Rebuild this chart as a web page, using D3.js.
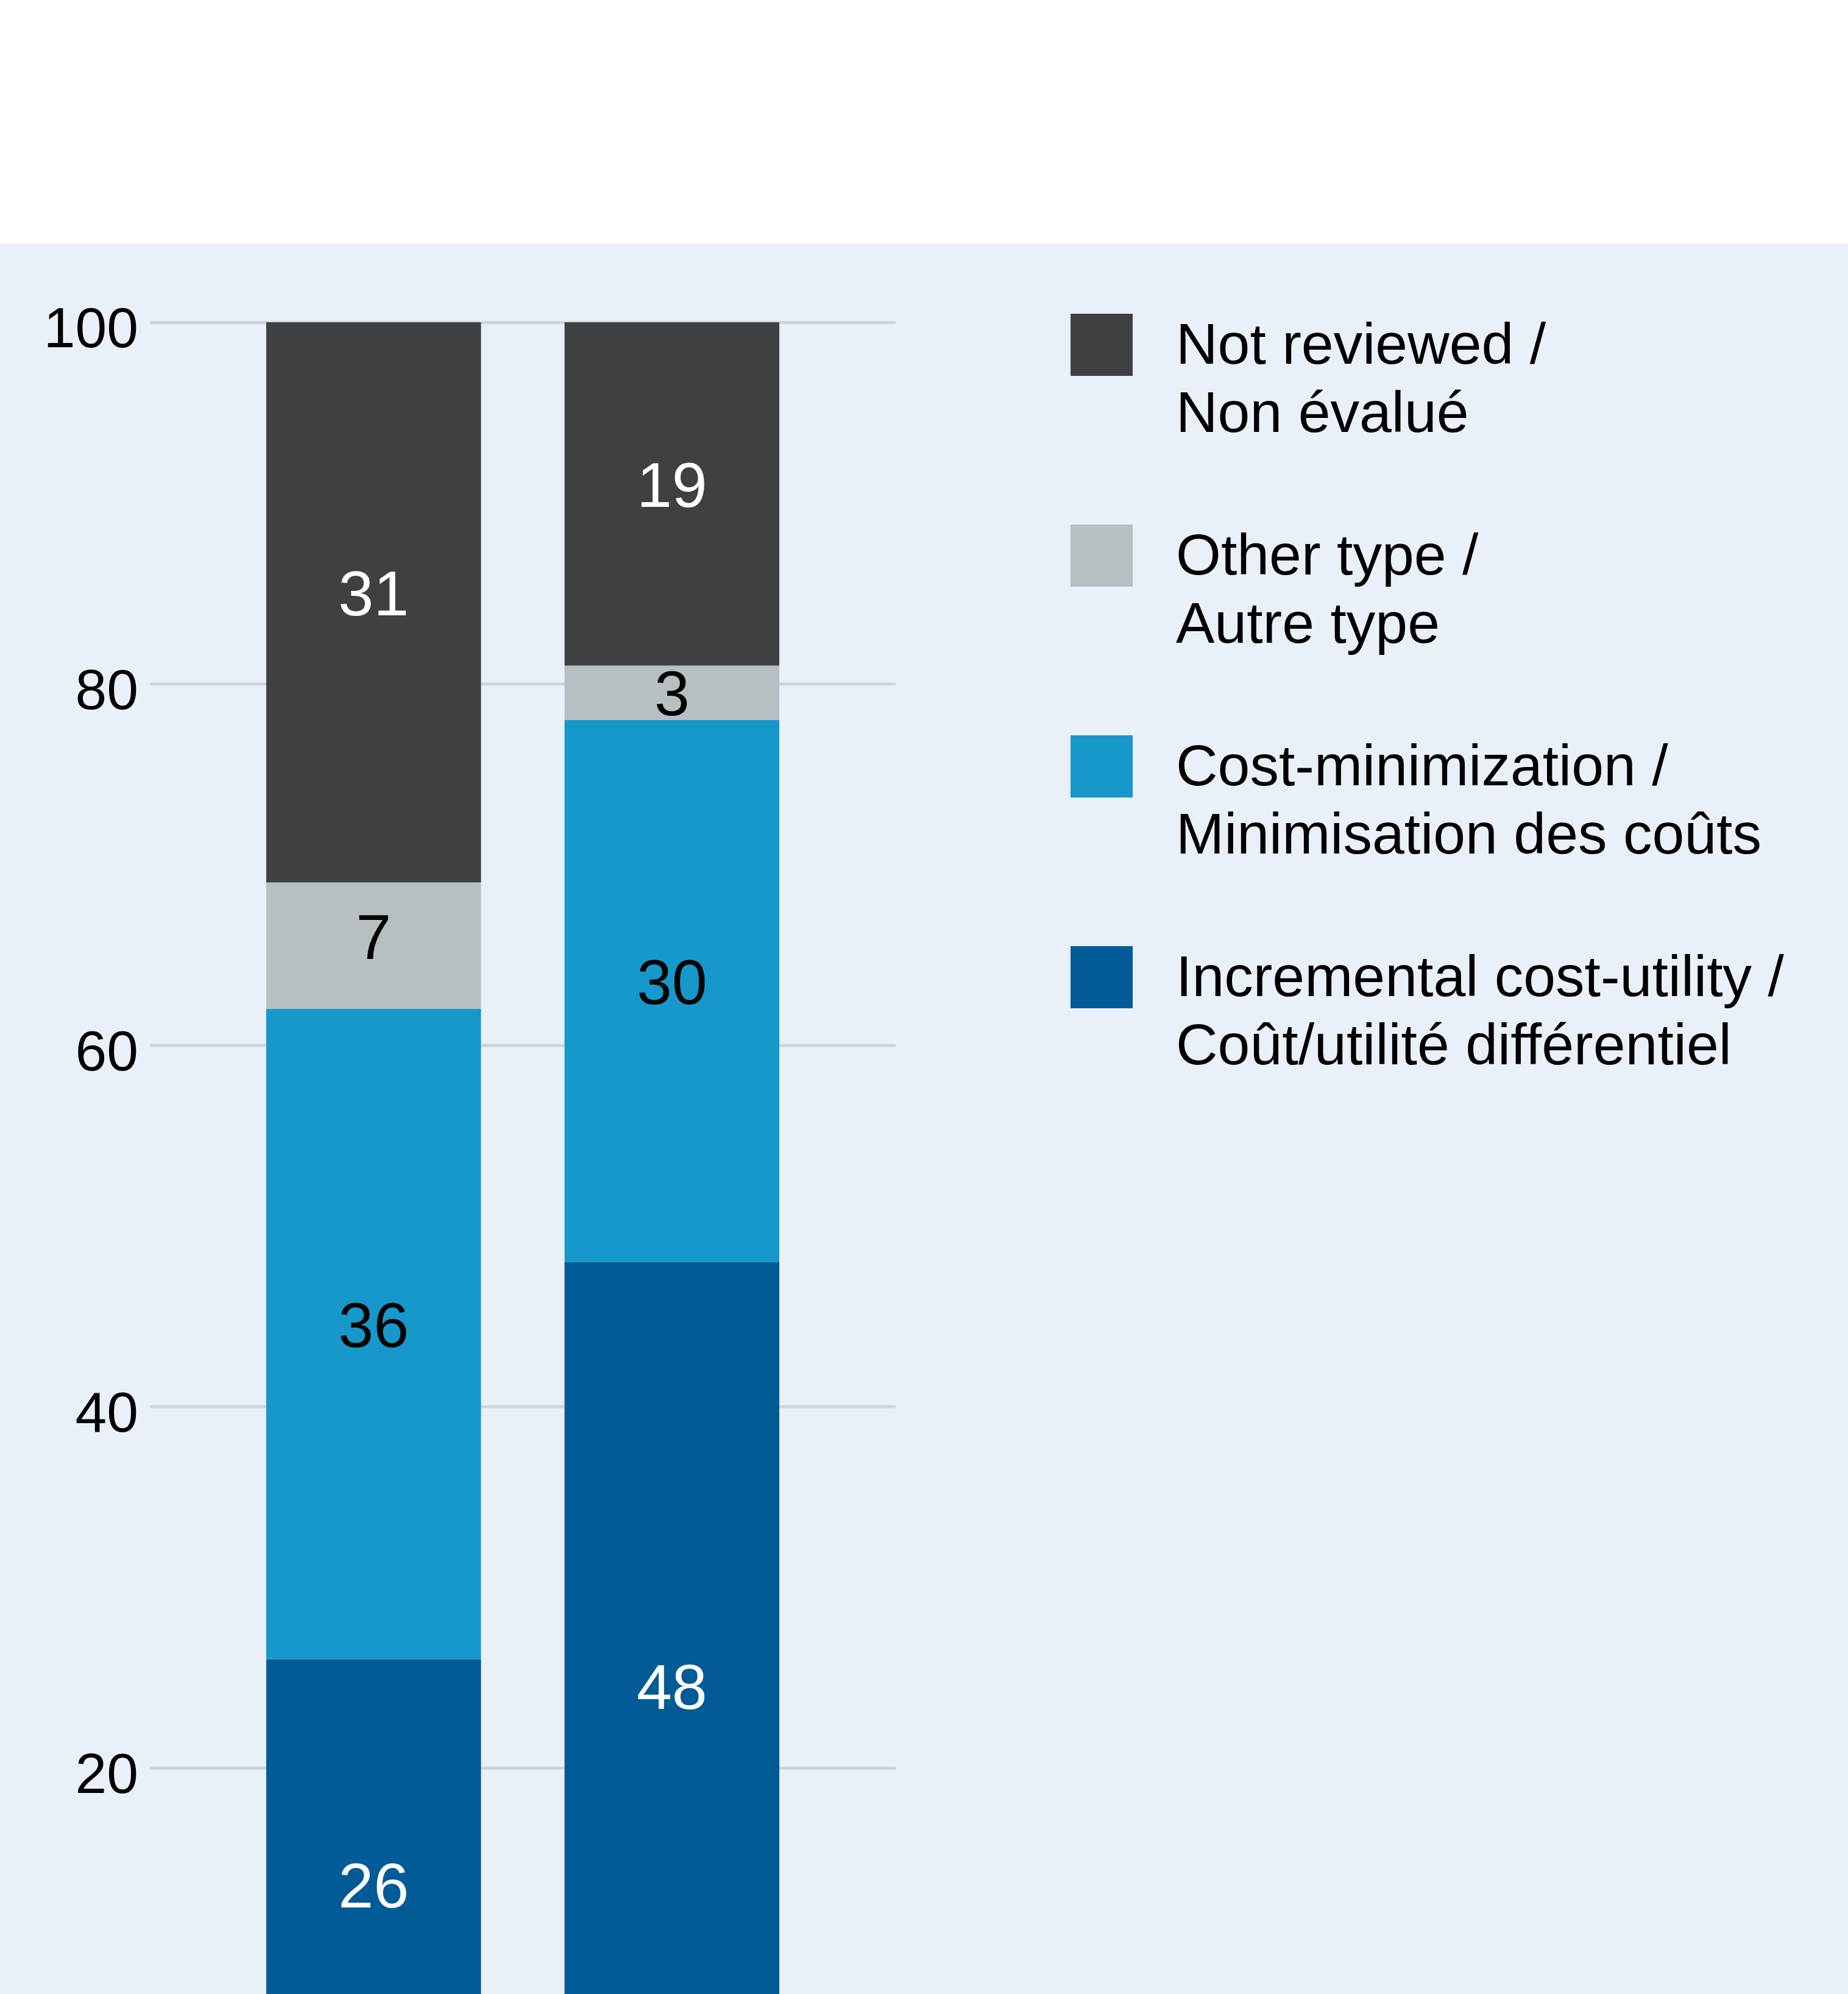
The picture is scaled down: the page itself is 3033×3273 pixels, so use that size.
<!DOCTYPE html>
<html>
<head>
<meta charset="utf-8">
<script src="https://cdn.jsdelivr.net/npm/d3@7/dist/d3.min.js"></script>
<style>
  html, body { margin: 0; padding: 0; background: #ffffff; }
  svg { display: block; }
  text { font-family: "Liberation Sans", Arial, Helvetica, sans-serif; }
</style>
</head>
<body>
<svg id="chart" width="3033" height="3273"></svg>
<script>
// ---------- data ----------
const categories = ["Group 1", "Group 2"];
const seriesKeys = ["Incremental cost-utility", "Cost-minimization", "Other type", "Not reviewed"];
const incrementalCostUtility = [26, 48];
const costMinimization = [36, 30];
const otherType = [7, 3];
const notReviewed = [31, 19];
const yTicks = [20, 40, 60, 80, 100];
const seriesColors = ["#005b96", "#1698cb", "#b8bfc3", "#3e4143"];
const labelColors = ["#ffffff", "#000000", "#000000", "#ffffff"];
// legend order (top to bottom)
const legendOrder = ["Not reviewed", "Other type", "Cost-minimization", "Incremental cost-utility"];
const legendLines = [
  ["Not reviewed /", "Non évalué"],
  ["Other type /", "Autre type"],
  ["Cost-minimization /", "Minimisation des coûts"],
  ["Incremental cost-utility /", "Coût/utilité différentiel"]
];

// ---------- build table ----------
const seriesValues = [incrementalCostUtility, costMinimization, otherType, notReviewed];
const table = categories.map((c, i) => {
  const row = { category: c };
  seriesKeys.forEach((k, j) => { row[k] = seriesValues[j][i]; });
  return row;
});
const stacked = d3.stack().keys(seriesKeys)(table);

// ---------- layout ----------
const W = 3033, H = 3273;
const svg = d3.select("#chart");

svg.append("rect").attr("x", 0).attr("y", 0).attr("width", W).attr("height", H).attr("fill", "#ffffff");
svg.append("rect").attr("x", 0).attr("y", 400).attr("width", W).attr("height", H - 400).attr("fill", "#eaf0f8");

const plotLeft = 246, plotRight = 1470;
const x = d3.scaleBand().domain(categories).range([plotLeft, plotRight])
  .paddingInner(0.28).paddingOuter(0.39);
const y = d3.scaleLinear().domain([0, 100]).range([3495, 529]);
const color = d3.scaleOrdinal().domain(seriesKeys).range(seriesColors);
const labelColor = d3.scaleOrdinal().domain(seriesKeys).range(labelColors);

// gridlines + y axis
const yAxis = d3.axisLeft(y).tickValues(yTicks).tickSize(-(plotRight - plotLeft)).tickPadding(19);
const gAxis = svg.append("g").attr("transform", `translate(${plotLeft},0)`).call(yAxis);
gAxis.select(".domain").remove();
gAxis.selectAll(".tick line").attr("stroke", "#d0d3d8").attr("stroke-width", 5);
gAxis.selectAll(".tick text")
  .attr("font-size", 93).attr("fill", "#000000").attr("dy", "0.44em")
  .style("font-family", "'Liberation Sans', Arial, sans-serif");

// bars
const layers = svg.append("g").selectAll("g").data(stacked).join("g")
  .attr("fill", d => color(d.key));
layers.selectAll("rect").data(d => d).join("rect")
  .attr("x", d => x(d.data.category))
  .attr("width", x.bandwidth())
  .attr("y", d => y(d[1]))
  .attr("height", d => y(d[0]) - y(d[1]));

// value labels
const labelG = svg.append("g");
stacked.forEach(layer => {
  layer.forEach(d => {
    const top = y(d[1]), bot = y(d[0]);
    const h = bot - top;
    const off = h > 150 ? -16 : 0;
    labelG.append("text")
      .attr("x", x(d.data.category) + x.bandwidth() / 2)
      .attr("y", (top + bot) / 2 + off)
      .attr("dy", "0.36em")
      .attr("text-anchor", "middle")
      .attr("font-size", 104)
      .attr("fill", labelColor(layer.key))
      .text(d[1] - d[0]);
  });
});

// legend
const legendX = 1757, legendTextX = 1930, legendTop = 515, legendStep = 346;
const legend = svg.append("g");
legendOrder.forEach((key, i) => {
  const gy = legendTop + i * legendStep;
  legend.append("rect")
    .attr("x", legendX).attr("y", gy)
    .attr("width", 102).attr("height", 102)
    .attr("fill", color(key));
  const t = legend.append("text")
    .attr("x", legendTextX).attr("y", gy + 82)
    .attr("font-size", 95).attr("fill", "#000000");
  legendLines[i].forEach((line, j) => {
    t.append("tspan").attr("x", legendTextX).attr("dy", j === 0 ? 0 : 112).text(line);
  });
});
</script>
</body>
</html>
